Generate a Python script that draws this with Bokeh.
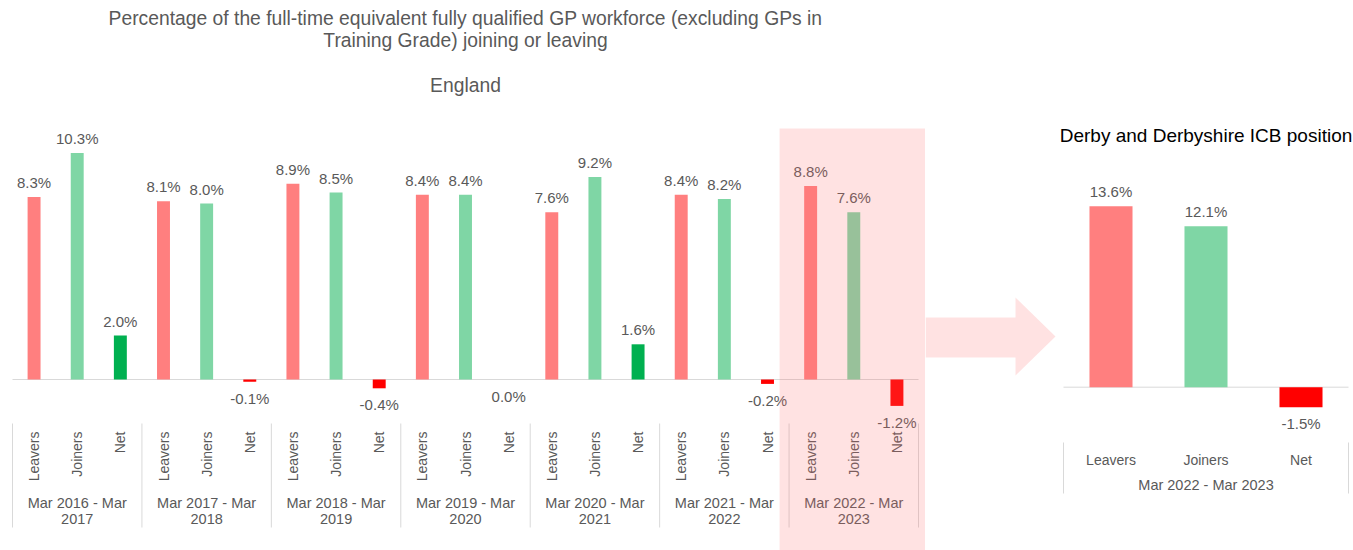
from bokeh.plotting import figure
from bokeh.models import ColumnDataSource, FactorRange, Range1d
from bokeh.layouts import row
from bokeh.embed import file_html
from bokeh.resources import INLINE
from bokeh.core.properties import value
import math

# ---------------- data ----------------
periods = ["Mar 2016 - Mar 2017", "Mar 2017 - Mar 2018", "Mar 2018 - Mar 2019",
           "Mar 2019 - Mar 2020", "Mar 2020 - Mar 2021", "Mar 2021 - Mar 2022",
           "Mar 2022 - Mar 2023"]
measures = ["Leavers", "Joiners", "Net"]
england_leavers = [8.3, 8.1, 8.9, 8.4, 7.6, 8.4, 8.8]
england_joiners = [10.3, 8.0, 8.5, 8.4, 9.2, 8.2, 7.6]
england_net = [2.0, -0.1, -0.4, 0.0, 1.6, -0.2, -1.2]
icb_period = "Mar 2022 - Mar 2023"
icb_values = [13.6, 12.1, -1.5]

left_title_lines = ["Percentage of the full-time equivalent fully qualified GP workforce (excluding GPs in",
                    "Training Grade) joining or leaving",
                    "England"]
right_title = "Derby and Derbyshire ICB position"

# ---------------- styles ----------------
C_LEAVERS = "#FF7F7F"
C_JOINERS = "#7FD6A5"
C_NET_POS = "#00B050"
C_NET_NEG = "#FF0000"
C_TEXT = "#595959"
C_RULE = "#D9D9D9"
HL_COLOR = "#FF6E6E"
HL_ALPHA = 0.2
FONT = value("Liberation Sans")
FIG_H = 550


def bar_color(measure, v):
    if measure == "Leavers":
        return C_LEAVERS
    if measure == "Joiners":
        return C_JOINERS
    return C_NET_POS if v > 0 else C_NET_NEG


def bar_source(groups, leavers, joiners, net):
    xs, tops, colors, labels, bases, offs = [], [], [], [], [], []
    for g, a, b, c in zip(groups, leavers, joiners, net):
        for m, v in zip(measures, (a, b, c)):
            xs.append((g, m))
            tops.append(v)
            colors.append(bar_color(m, v))
            labels.append(f"{v:.1f}%")
            bases.append("bottom" if v > 0 else "top")
            offs.append(-6 if v > 0 else 8)
    return ColumnDataSource(dict(x=xs, top=tops, color=colors, label=labels,
                                 base=bases, off=offs))


def base_fig(width, x_range, y_range, border_left, border_right):
    p = figure(width=width, height=FIG_H, x_range=x_range, y_range=y_range,
               output_backend="svg", toolbar_location=None,
               x_axis_location=None, y_axis_location=None,
               min_border_left=border_left, min_border_right=border_right,
               min_border_top=0, min_border_bottom=0)
    p.outline_line_color = None
    p.xgrid.visible = False
    p.ygrid.visible = False
    p.background_fill_color = "white"
    p.border_fill_color = "white"
    return p


# ================= left: England =================
L_PX = 22.0          # pixels per percentage point
L_ZERO = 379         # zero line, px from top
L_UNIT = 906 / 21    # pixels per category slot
ly = lambda py: (L_ZERO - py) / L_PX      # page pixel row -> data value

factors = [(g, m) for g in periods for m in measures]
left = base_fig(925, FactorRange(factors=factors, group_padding=0,
                                 range_padding=7 / L_UNIT, range_padding_units="absolute"),
                Range1d(ly(FIG_H), ly(0)), 5, 0)

first_edge = (periods[0], "Leavers", -0.5)
last_edge = (periods[-1], "Net", 0.5)
# zero line
left.segment(x0=[first_edge], x1=[last_edge], y0=[0], y1=[0],
             line_color=C_RULE, line_width=1)

# titles
center = (periods[3], "Joiners")
left.text(x=[center] * 3, y=[ly(18), ly(40), ly(85)], text=left_title_lines,
          text_align="center", text_baseline="middle", text_font=FONT,
          text_font_size="19.3px", text_color=C_TEXT)

lsrc = bar_source(periods, england_leavers, england_joiners, england_net)
left.vbar(x="x", top="top", width=0.3, fill_color="color", line_color=None, source=lsrc)
left.text(x="x", y="top", text="label", text_baseline="base", y_offset="off",
          text_align="center", text_font=FONT, text_font_size="15px",
          text_color=C_TEXT, source=lsrc)

# category labels (rotated) and period labels
left.text(x=factors, y=[ly(431)] * len(factors),
          text=[f[1] for f in factors], angle=math.pi / 2,
          text_align="right", text_baseline="middle", text_font=FONT,
          text_font_size="14px", text_color=C_TEXT)
mids = [(g, "Joiners") for g in periods]
left.text(x=mids, y=[ly(502)] * len(periods), text=[g.rsplit(" ", 1)[0] for g in periods],
          text_align="center", text_baseline="middle",
          text_font=FONT, text_font_size="14.5px", text_color=C_TEXT)
left.text(x=mids, y=[ly(518)] * len(periods), text=[g.rsplit(" ", 1)[1] for g in periods],
          text_align="center", text_baseline="middle",
          text_font=FONT, text_font_size="14.5px", text_color=C_TEXT)
sep_x = [(g, "Leavers", -0.5) for g in periods] + [last_edge]
left.segment(x0=sep_x, x1=sep_x, y0=[ly(423)] * len(sep_x),
             y1=[ly(527)] * len(sep_x), line_color=C_RULE, line_width=1)

# highlight of the latest period (overlay, runs to the right edge of the frame)
left.rect(x=[(periods[-1], "Joiners", 0.5)], y=[(ly(128) + ly(FIG_H + 20)) / 2],
          width=4.44, height=ly(128) - ly(FIG_H + 20), fill_color=HL_COLOR,
          fill_alpha=HL_ALPHA, line_color=None)

# ================= middle: arrow =================
mid = base_fig(133, Range1d(0, 133), Range1d(FIG_H, 0), 0, 0)
mid.patch(x=[0, 90, 90, 130, 90, 90, 0], y=[317, 317, 297, 336, 375, 357, 357],
          fill_color=HL_COLOR, fill_alpha=HL_ALPHA, line_color=None)

# ================= right: ICB =================
R_PX = 13.3
R_ZERO = 386.7
ry = lambda py: (R_ZERO - py) / R_PX

rfactors = [(icb_period, m) for m in measures]
right = base_fig(295, FactorRange(factors=rfactors, group_padding=0,
                                  range_padding=5 / 95, range_padding_units="absolute"),
                 Range1d(ry(FIG_H), ry(0)), 0, 0)

r_first = (icb_period, "Leavers", -0.5)
r_last = (icb_period, "Net", 0.5)
right.segment(x0=[r_first], x1=[r_last], y0=[0], y1=[0], line_color=C_RULE, line_width=1)
right.text(x=[(icb_period, "Joiners")], y=[ry(135)], text=[right_title],
           text_align="center", text_baseline="middle", text_font=FONT,
           text_font_size="19px", text_color="#000000")
rsrc = bar_source([icb_period], [icb_values[0]], [icb_values[1]], [icb_values[2]])
right.vbar(x="x", top="top", width=0.453, fill_color="color", line_color=None, source=rsrc)
right.text(x="x", y="top", text="label", text_baseline="base", y_offset="off",
           text_align="center", text_font=FONT, text_font_size="15px",
           text_color=C_TEXT, source=rsrc)
right.text(x=rfactors, y=[ry(459)] * 3, text=measures,
           text_align="center", text_baseline="middle", text_font=FONT,
           text_font_size="14px", text_color=C_TEXT)
right.text(x=[(icb_period, "Joiners")], y=[ry(484)], text=[icb_period],
           text_align="center", text_baseline="middle", text_font=FONT,
           text_font_size="14.5px", text_color=C_TEXT)
rsep = [r_first, r_last]
right.segment(x0=rsep, x1=rsep, y0=[ry(442)] * 2,
              y1=[ry(493)] * 2, line_color=C_RULE, line_width=1)

layout = row(left, mid, right, spacing=0)
open("out.html", "w").write(file_html(layout, INLINE))
